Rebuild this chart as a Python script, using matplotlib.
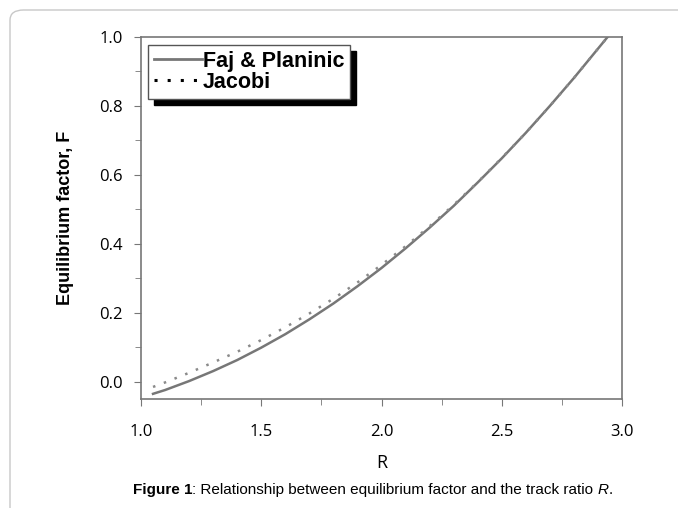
import numpy as np
import matplotlib
matplotlib.use('Agg')
import matplotlib.pyplot as plt
from matplotlib.patches import FancyBboxPatch
from matplotlib.lines import Line2D

# values
R = [1.05, 1.1, 1.2, 1.3, 1.4, 1.5, 1.6, 1.7, 1.8, 1.9, 2.0,
     2.1, 2.2, 2.3, 2.4, 2.5, 2.6, 2.7, 2.8, 2.9, 2.94]
F_faj = [-0.035, -0.024, 0.002, 0.031, 0.063, 0.099, 0.138, 0.181, 0.227, 0.277, 0.330,
         0.387, 0.447, 0.510, 0.578, 0.648, 0.722, 0.800, 0.881, 0.966, 1.0]
F_jacobi = [-0.015, -0.002, 0.026, 0.056, 0.087, 0.121, 0.158, 0.198, 0.241, 0.288, 0.339,
            0.393, 0.451, 0.513, 0.579, 0.649, 0.722, 0.800, 0.881, 0.966, 1.0]
xticks = [1.0, 1.5, 2.0, 2.5, 3.0]
yticks = [0.0, 0.2, 0.4, 0.6, 0.8, 1.0]

plt.rcParams['font.family'] = ['Open Sans', 'DejaVu Sans']

fig = plt.figure(figsize=(6.78, 5.08), dpi=100)
W, H = 678, 508

# rounded frame round the figure
frame = FancyBboxPatch((10/W, -0.05), (W+20)/W, 1.05 - 10/H,
                       boxstyle='round,pad=0,rounding_size=0.02',
                       transform=fig.transFigure, fc='none', ec='#c8c8c8', lw=1)
fig.patches.append(frame)

ax = fig.add_axes([141/W, 1-399/H, (622-141)/W, (399-37)/H])
ax.plot(R, F_faj, color='#777777', lw=1.8)
ax.plot(R, F_jacobi, color='#8a8a8a', lw=1.8, linestyle=(0, (1, 3.6)))

ax.set_xlim(1.0, 2.99)
ax.set_ylim(-0.05, 1.0)
ax.set_xticks(xticks)
ax.set_yticks(yticks)
ax.set_xticklabels(['%.1f' % v for v in xticks])
ax.set_yticklabels(['%.1f' % v for v in yticks])
ax.set_xticks(np.arange(1.25, 3.0, 0.5), minor=True)
ax.set_yticks(np.arange(0.1, 1.0, 0.2), minor=True)
ax.tick_params(which='both', direction='out', color='#777777', labelsize=12)
ax.tick_params(which='major', length=5)
ax.tick_params(which='minor', length=4)
ax.tick_params(axis='x', pad=13)
ax.tick_params(axis='y', pad=8)
for s in ax.spines.values():
    s.set_color('#777777')
    s.set_linewidth(1.2)

ax.set_xlabel('R', fontsize=13, labelpad=10)
ax.set_ylabel('Equilibrium factor, F', fontsize=13, fontweight='bold',
              family=['Liberation Sans', 'DejaVu Sans'], labelpad=18)

handles = [Line2D([], [], color='#777777', lw=2),
           Line2D([], [], color='black', lw=2.2, linestyle=(0, (1, 3.3)))]
leg = ax.legend(handles, ['Faj & Planinic', 'Jacobi'], loc='upper left',
                bbox_to_anchor=(0.015, 0.978), fancybox=False,
                shadow={'color': 'black', 'alpha': 1, 'ox': 4, 'oy': -4},
                prop={'family': 'Liberation Sans', 'weight': 'bold', 'size': 15.5},
                handlelength=2.2, handletextpad=0.05, labelspacing=0.0,
                borderpad=0.28, borderaxespad=0)
leg.get_frame().set_edgecolor('#555555')
leg.get_frame().set_linewidth(1)

cy = 1-490/H
t1 = fig.text(133/W, cy, 'Figure 1', fontsize=11, fontweight='bold',
              family='Liberation Sans', va='center')
fig.canvas.draw()
bb = t1.get_window_extent()
t2 = fig.text(bb.x1/W, cy,
              ': Relationship between equilibrium factor and the track ratio ',
              fontsize=11, family='Liberation Sans', va='center')
bb2 = t2.get_window_extent()
t3 = fig.text(bb2.x1/W, cy, 'R', fontsize=11, style='italic',
              family='Liberation Sans', va='center')
bb3 = t3.get_window_extent()
fig.text(bb3.x1/W, cy, '.', fontsize=11, family='Liberation Sans', va='center')

fig.savefig('out.png', dpi=100)
